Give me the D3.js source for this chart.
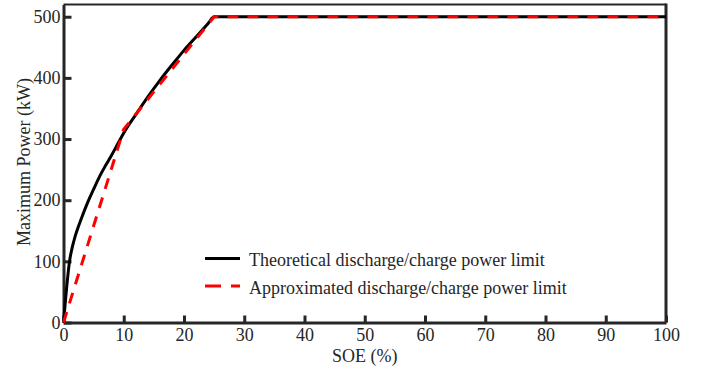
<!DOCTYPE html>
<html>
<head>
<meta charset="utf-8">
<script src="https://cdn.jsdelivr.net/npm/d3@7"></script>
<style>
  body { margin: 0; background: #fff; }
  text { font-family: "Liberation Serif", "Times New Roman", serif; fill: #262626; }
</style>
</head>
<body>
<div id="chart"></div>
<script>
// SOE (%) and power (kW)
const theoSoe = [0, 0.5, 1, 1.5, 2, 3, 4, 5, 6, 7, 8, 9, 10, 12, 14, 16, 18, 20, 22, 24, 25, 100];
const theoPower = [0, 55, 100, 125, 143, 171, 196, 218, 239, 257, 274, 292, 310, 340, 369, 396, 421, 445, 467, 489, 500, 500];

const approxSoe = [0, 10, 25, 100];
const approxPower = [0, 316, 500, 500];

const xTicks = [0, 10, 20, 30, 40, 50, 60, 70, 80, 90, 100];
const yTicks = [0, 100, 200, 300, 400, 500];

const legendLabels = [
  "Theoretical discharge/charge power limit",
  "Approximated discharge/charge power limit",
];

const W = 704, H = 373;
const axisColor = "#262626";
const fontSize = "18px";

const svg = d3.select("#chart").append("svg")
  .attr("width", W)
  .attr("height", H);

const x = d3.scaleLinear().domain([0, 100]).range([63.5, 666]);
const y = d3.scaleLinear().domain([0, 520]).range([322.5, 4.5]);

// top + right border
svg.append("line")
  .attr("x1", x(0)).attr("x2", x(100))
  .attr("y1", y(520)).attr("y2", y(520))
  .attr("stroke", axisColor).attr("stroke-width", 2);
svg.append("line")
  .attr("x1", x(100)).attr("x2", x(100))
  .attr("y1", y(520) - 1).attr("y2", y(0))
  .attr("stroke", axisColor).attr("stroke-width", 3);

// x axis, ticks point inward
svg.append("g")
  .attr("transform", `translate(0,${y(0)})`)
  .call(d3.axisBottom(x).tickValues(xTicks).tickSize(-7).tickSizeOuter(0).tickPadding(6))
  .call((g) => g.select(".domain").attr("stroke", axisColor).attr("stroke-width", 3))
  .call((g) => g.selectAll(".tick line").attr("stroke", axisColor).attr("stroke-width", 3))
  .call((g) => g.selectAll(".tick text").attr("font-size", fontSize).attr("fill", axisColor));

// y axis
svg.append("g")
  .attr("transform", `translate(${x(0)},0)`)
  .call(d3.axisLeft(y).tickValues(yTicks).tickSize(-8).tickSizeOuter(0).tickPadding(3))
  .call((g) => g.select(".domain").attr("stroke", axisColor).attr("stroke-width", 3))
  .call((g) => g.selectAll(".tick line").attr("stroke", axisColor).attr("stroke-width", 3))
  .call((g) => g.selectAll(".tick text").attr("font-size", fontSize).attr("fill", axisColor));

// axis titles
svg.append("text")
  .attr("x", x(50))
  .attr("y", 362)
  .attr("text-anchor", "middle")
  .attr("font-size", fontSize)
  .text("SOE (%)");

svg.append("text")
  .attr("transform", `translate(30,162) rotate(-90)`)
  .attr("text-anchor", "middle")
  .attr("font-size", fontSize)
  .text("Maximum Power (kW)");

// curves: black first, red dashes drawn on top
const smooth = d3.line()
  .x((d) => x(d[0]))
  .y((d) => y(d[1]))
  .curve(d3.curveMonotoneX);
const straight = d3.line()
  .x((d) => x(d[0]))
  .y((d) => y(d[1]));

svg.append("path")
  .attr("d", smooth(d3.zip(theoSoe, theoPower)))
  .attr("fill", "none")
  .attr("stroke", "#000")
  .attr("stroke-width", 3);

svg.append("path")
  .attr("d", straight(d3.zip(approxSoe, approxPower)))
  .attr("fill", "none")
  .attr("stroke", "#ff0000")
  .attr("stroke-width", 3)
  .attr("stroke-dasharray", "11,9");

// legend
const legend = svg.append("g");
const legendStyles = [
  { color: "#000", dash: null },
  { color: "#ff0000", dash: "16,10" },
];
legendLabels.forEach((label, i) => {
  const ly = 258.5 + 27.5 * i;
  legend.append("line")
    .attr("x1", 205).attr("x2", 240)
    .attr("y1", ly).attr("y2", ly)
    .attr("stroke", legendStyles[i].color)
    .attr("stroke-width", 3)
    .attr("stroke-dasharray", legendStyles[i].dash);
  legend.append("text")
    .attr("x", 249)
    .attr("y", ly + 7.5)
    .attr("font-size", fontSize)
    .text(label);
});
</script>
</body>
</html>
